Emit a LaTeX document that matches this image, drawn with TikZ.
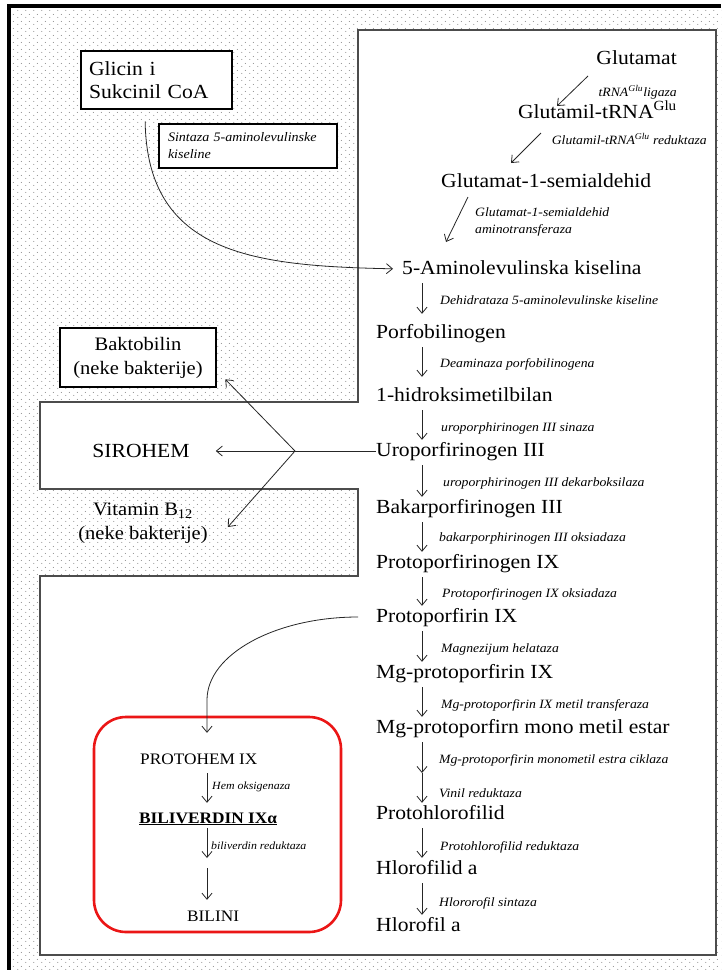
\documentclass[tikz,border=0pt]{standalone}
\usepackage{fontspec}
\setmainfont{Liberation Serif}[FakeStretch=1.08]
\usetikzlibrary{arrows.meta,patterns.meta}
\definecolor{hemred}{RGB}{235,22,22}
\tikzdeclarepattern{
  name=paperdots,
  type=uncolored,
  bounding box={(0pt,0pt) and (8pt,7pt)},
  tile size={(8pt,7pt)},
  code={
    \fill (2pt,1.75pt) circle [radius=0.55pt];
    \fill (6pt,5.25pt) circle [radius=0.55pt];
  }
}
\newcommand\bigtxt{\fontsize{20}{23}\selectfont}
\newcommand\enztxt{\fontsize{12.7}{17.5}\selectfont\itshape}
\newcommand\boxenz{\fontsize{11}{14}\selectfont\itshape}
\newcommand\hemtxt{\fontsize{16}{19}\selectfont}
\newcommand\sidetxt{\fontsize{19}{24}\selectfont}
\tikzset{
  mainlbl/.style={font=\bigtxt, inner sep=0pt, text height=14pt, text depth=4pt},
  enzlbl/.style={font=\enztxt, inner sep=0pt, anchor=base west},
  arr/.style={draw=black!85, line width=0.8pt, -{Straight Barb[length=6pt,width=10pt]}},
  colarr/.style={arr, shorten <=5pt, shorten >=2pt},
  thickbox/.style={draw, line width=2.6pt, fill=white, inner sep=0pt},
  hemlbl/.style={font=\hemtxt, inner sep=0pt, text height=12pt, text depth=2pt, anchor=base west},
  hemenz/.style={font=\boxenz, inner sep=0pt, anchor=base west},
}
\begin{document}
\begin{tikzpicture}[x=1pt,y=-1pt]
\useasboundingbox (0,0) rectangle (721,970);
% background
\fill[white] (0,0) rectangle (721,970);
\fill[pattern=paperdots, pattern color=black!60] (9,6) rectangle (721,970);
\draw[line width=3.5pt] (9,970) -- (9,6) -- (721,6);
\filldraw[fill=white, draw=black!70, line width=1.2pt]
  (358,30) -- (716,30) -- (716,955) -- (40,955) -- (40,576) -- (358,576)
  -- (358,489) -- (40,489) -- (40,402) -- (358,402) -- cycle;

% helper coordinates
\coordinate (ax) at (422,0);
\coordinate (rbx) at (207,0);

% top part
\node[mainlbl, anchor=base east] (glutamat) at (677,64) {Glutamat};
\node[enzlbl, anchor=base east] (ligaza) at (677,96) {tRNA\textsuperscript{Glu}ligaza};
\node[mainlbl, anchor=base east] (glutamil) at (677,118) {Glutamil-tRNA\textsuperscript{Glu}};
\node[enzlbl, anchor=base east] (gtrred) at (707,144) {Glutamil-tRNA\textsuperscript{Glu} reduktaza};
\node[mainlbl, anchor=base west] (gsa) at (441,187) {Glutamat-1-semialdehid};
\node[font=\enztxt, inner sep=0pt, anchor=west, align=left] (gsaat) at (475,222) {Glutamat-1-semialdehid\\aminotransferaza};
\node[mainlbl, anchor=base west] (amino) at (402,274) {5-Aminolevulinska kiselina};

\draw[arr] ([shift={(-89,12)}]glutamat.base east) -- ([shift={(-120,-12)}]glutamil.base east);
\draw[arr] ([shift={(-136,15)}]glutamil.base east) -- ([shift={(70,-24)}]gsa.base west);
\draw[arr] ([shift={(27,10)}]gsa.base west) -- ([shift={(44,-32)}]amino.base west);

% main column
\node[mainlbl, anchor=base west] (porf) at (376,338) {Porfobilinogen};
\node[mainlbl, anchor=base west] (hmb) at (376,401) {1-hidroksimetilbilan};
\node[mainlbl, anchor=base west] (urop) at (376,456) {Uroporfirinogen III};
\node[mainlbl, anchor=base west] (bakar) at (376,513) {Bakarporfirinogen III};
\node[mainlbl, anchor=base west] (protogen) at (376,568) {Protoporfirinogen IX};
\node[mainlbl, anchor=base west] (ppix) at (376,622) {Protoporfirin IX};
\node[mainlbl, anchor=base west] (mgpp) at (376,678) {Mg-protoporfirin IX};
\node[mainlbl, anchor=base west] (mgme) at (376,733) {Mg-protoporfirn mono metil estar};
\node[mainlbl, anchor=base west] (pchl) at (376,819) {Protohlorofilid};
\node[mainlbl, anchor=base west] (chlide) at (376,874) {Hlorofilid a};
\node[mainlbl, anchor=base west] (chl) at (376,931) {Hlorofil a};

\node[enzlbl] (e1) at (440,304) {Dehidrataza 5-aminolevulinske kiseline};
\node[enzlbl] (e2) at (440,367) {Deaminaza porfobilinogena};
\node[enzlbl] (e3) at (441,431) {uroporphirinogen III sinaza};
\node[enzlbl] (e4) at (443,486) {uroporphirinogen III dekarboksilaza};
\node[enzlbl] (e5) at (439,541) {bakarporphirinogen III oksiadaza};
\node[enzlbl] (e6) at (442,597) {Protoporfirinogen IX oksiadaza};
\node[enzlbl] (e7) at (441,652) {Magnezijum helataza};
\node[enzlbl] (e8) at (441,708) {Mg-protoporfirin IX metil transferaza};
\node[enzlbl] (e9) at (439,763) {Mg-protoporfirin monometil estra ciklaza};
\node[enzlbl] (e10) at (439,797) {Vinil reduktaza};
\node[enzlbl] (e11) at (440,850) {Protohlorofilid reduktaza};
\node[enzlbl] (e12) at (439,906) {Hlororofil sintaza};

\draw[colarr, shorten >=10pt] (amino.south -| ax) -- (porf.north -| ax);
\draw[colarr, shorten >=10pt] (porf.south -| ax) -- (hmb.north -| ax);
\draw[colarr] (hmb.south -| ax) -- (urop.north -| ax);
\draw[colarr] (urop.south -| ax) -- (bakar.north -| ax);
\draw[colarr] (bakar.south -| ax) -- (protogen.north -| ax);
\draw[colarr] (protogen.south -| ax) -- (ppix.north -| ax);
\draw[colarr] (ppix.south -| ax) -- (mgpp.north -| ax);
\draw[colarr] (mgpp.south -| ax) -- (mgme.north -| ax);
\coordinate (vmid) at (422,773);
\draw[arr, shorten <=5pt] (mgme.south -| ax) -- (vmid);
\draw[arr, shorten >=2pt] (vmid) -- (pchl.north -| ax);
\draw[colarr] (pchl.south -| ax) -- (chlide.north -| ax);
\draw[colarr] (chlide.south -| ax) -- (chl.north -| ax);

% left top
\node[thickbox, minimum width=151pt, minimum height=58pt, text width=135pt, align=left, font=\fontsize{20}{23}\selectfont] (glicin) at (156.5,80) {Glicin i\\Sukcinil CoA};
\node[thickbox, minimum width=178pt, minimum height=44pt, text width=160pt, align=left, font=\fontsize{13}{17}\selectfont\itshape] (sintaza) at (248,146) {Sintaza 5-aminolevulinske\\kiseline};
\draw[arr, shorten <=11pt, shorten >=9pt] ([xshift=-11.5pt]glicin.south) .. controls (147,255) and (255,266) .. (amino.west);

% side products
\node[thickbox, minimum width=156pt, minimum height=59pt, align=center, font=\sidetxt] (bakt) at (138,357.5) {Baktobilin\\(neke bakterije)};
\node[font=\fontsize{20}{23}\selectfont, inner sep=0pt] (sir) at (141,451) {SIROHEM};
\node[font=\sidetxt, inner sep=0pt, align=center] (vit) at (143,523) {Vitamin B\textsubscript{12}\\(neke bakterije)};
\coordinate (br) at (295,451);
\draw[draw=black!85, line width=0.8pt] (urop.west) -- (br);
\draw[arr, shorten >=26pt] (br) -- (sir.east);
\draw[arr] (br) -- ([shift={(8,-9)}]bakt.south east);
\draw[arr] (br) -- ([shift={(20,4)}]vit.east);

% heme branch
\node[draw=hemred, line width=2.6pt, rounded corners=32pt, minimum width=247pt, minimum height=215pt, inner sep=0pt] (hembox) at (217.5,824.5) {};
\node[hemlbl] (prohem) at (140,764) {PROTOHEM IX};
\node[hemenz] (hemox) at (212,789) {Hem oksigenaza};
\node[hemlbl, font=\hemtxt\bfseries] (biliv) at (139,823) {\underline{BILIVERDIN IXα}};
\node[hemenz] (bvred) at (211,849) {biliverdin reduktaza};
\node[hemlbl] (bilini) at (187,921) {BILINI};
\draw[arr, shorten <=18pt, shorten >=19pt] (ppix.west) .. controls (276,617) and (207,654) .. (207,700) -- (prohem.north -| rbx);
\draw[arr, shorten <=7pt, shorten >=8pt] (prohem.south -| rbx) -- (biliv.north -| rbx);
\coordinate (bmid) at (207,858);
\coordinate (bmidb) at (207,868);
\draw[arr, shorten <=3pt] (biliv.south -| rbx) -- (bmid);
\draw[arr, shorten >=9pt] (bmidb) -- (bilini.north -| rbx);
\end{tikzpicture}
\end{document}
